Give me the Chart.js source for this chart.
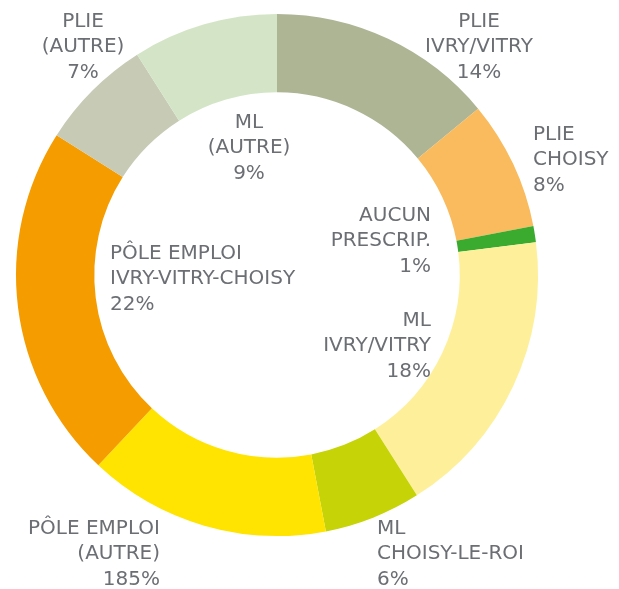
<!DOCTYPE html>
<html>
<head>
<meta charset="utf-8">
<script src="https://cdn.jsdelivr.net/npm/chart.js@4"></script>
<style>
  body { margin: 0; background: #fff; }
  #wrap { position: relative; width: 619px; height: 589px; }
</style>
</head>
<body>
<div id="wrap"><canvas id="prescripteurs"></canvas></div>
<script>
// Data
const categories = [
  ["PLIE", "IVRY/VITRY"],
  ["PLIE", "CHOISY"],
  ["AUCUN", "PRESCRIP."],
  ["ML", "IVRY/VITRY"],
  ["ML", "CHOISY-LE-ROI"],
  ["PÔLE EMPLOI", "(AUTRE)"],
  ["PÔLE EMPLOI", "IVRY-VITRY-CHOISY"],
  ["PLIE", "(AUTRE)"],
  ["ML", "(AUTRE)"],
];
const values = [14, 8, 1, 18, 6, 15, 22, 7, 9];
// percentages as printed on the original (incl. its "185%")
const pctLabels = ["14%", "8%", "1%", "18%", "6%", "185%", "22%", "7%", "9%"];
const colors = [
  "#adb594", "#f9bb5d", "#3aab2e", "#fef09b", "#c5d307",
  "#fee400", "#f59c00", "#c7cab5", "#d3e5c6",
];

// label placement: offset from doughnut centre (first baseline) + alignment
const labelPos = [
  [202, -248, "center"],
  [256, -135, "left"],
  [154, -54, "right"],
  [154, 51, "right"],
  [100, 259, "left"],
  [-117, 259, "right"],
  [-167, -16, "left"],
  [-194, -248, "center"],
  [-28, -147, "center"],
];

const ringLabels = {
  id: "ringLabels",
  afterDraw(chart) {
    const ctx = chart.ctx;
    const arcs = chart.getDatasetMeta(0).data;
    ctx.save();
    ctx.font = "20px 'DejaVu Sans'";
    ctx.fillStyle = "#6b6e73";
    ctx.textBaseline = "alphabetic";
    arcs.forEach((arc, i) => {
      const [dx, dy, align] = labelPos[i];
      ctx.textAlign = align;
      const lines = categories[i].concat(pctLabels[i]);
      lines.forEach((t, j) => {
        ctx.fillText(t, arc.x + dx, arc.y + dy + j * 25.3);
      });
    });
    ctx.restore();
  },
};

new Chart(document.getElementById("prescripteurs"), {
  type: "doughnut",
  data: {
    labels: categories.map((c) => c.join(" ")),
    datasets: [
      {
        data: values,
        backgroundColor: colors,
        borderWidth: 0,
        hoverBorderWidth: 0,
        hoverOffset: 0,
        offset: 0,
      },
    ],
  },
  options: {
    responsive: true,
    maintainAspectRatio: false,
    animation: false,
    cutout: "70%",
    layout: {
      padding: { left: 16, top: 14, right: 81, bottom: 53 },
    },
    plugins: {
      legend: { display: false },
      tooltip: { enabled: false },
    },
  },
  plugins: [ringLabels],
});
</script>
</body>
</html>
